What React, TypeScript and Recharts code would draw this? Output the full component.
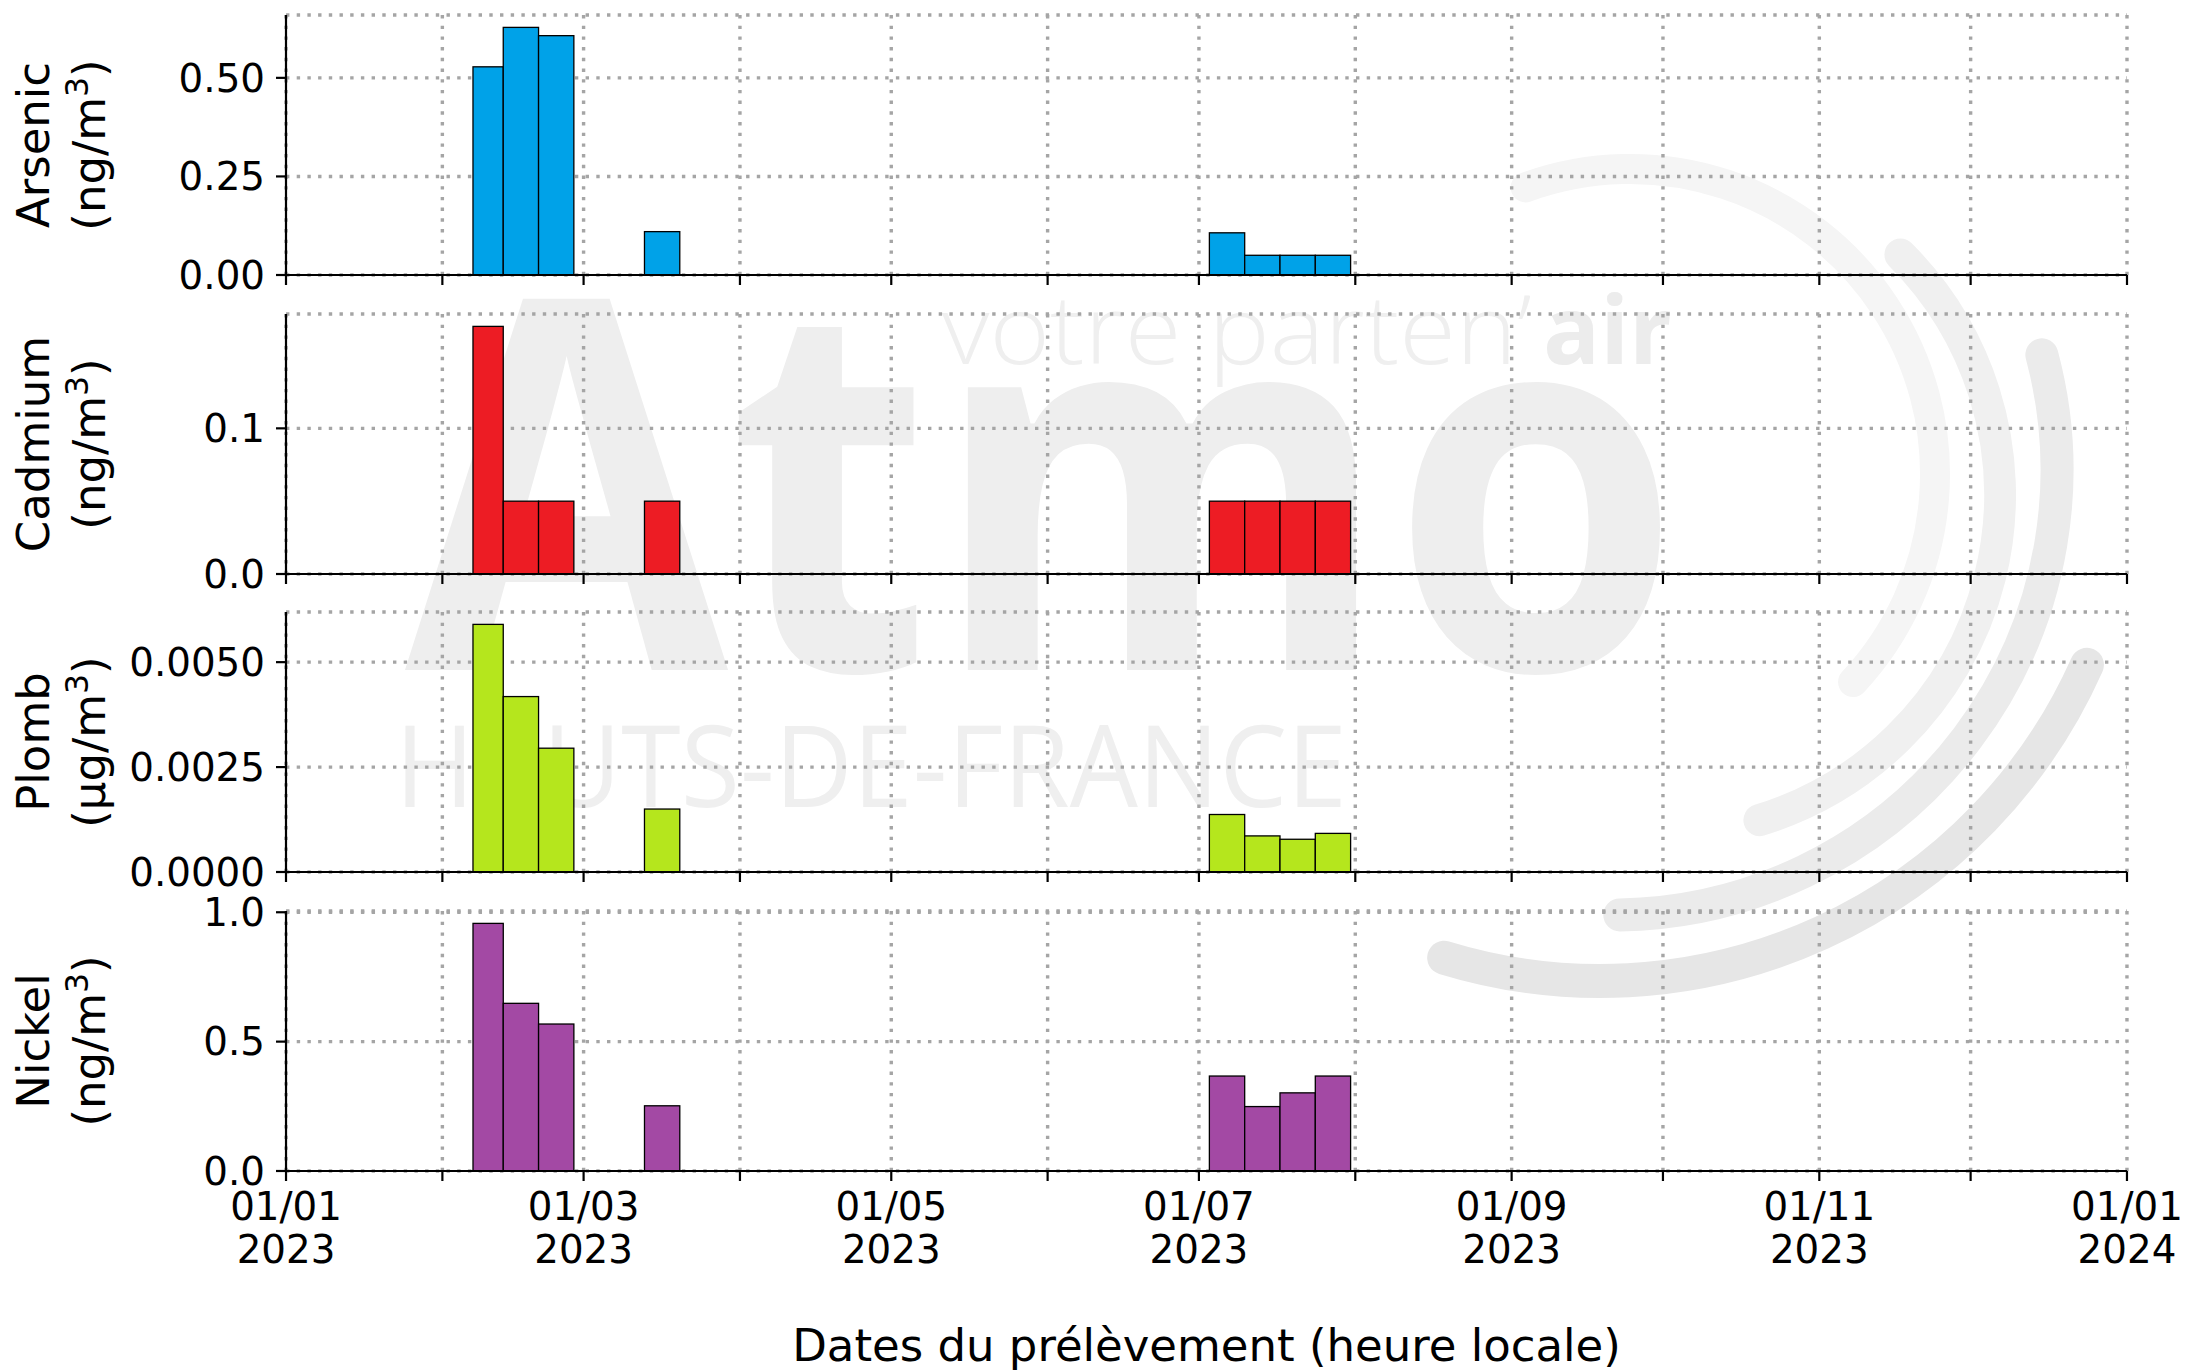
import React from "react";
import { BarChart, Bar, XAxis, YAxis, CartesianGrid } from "recharts";

const FONT = "'DejaVu Sans', sans-serif";

// sampling periods (start / end of each sample)
const sampleStart = [
  "2023-02-07", "2023-02-13", "2023-02-20", "2023-03-13",
  "2023-07-03", "2023-07-10", "2023-07-17", "2023-07-24",
];
const sampleEnd = [
  "2023-02-13", "2023-02-20", "2023-02-27", "2023-03-20",
  "2023-07-10", "2023-07-17", "2023-07-24", "2023-07-31",
];

const arsenic = [0.528, 0.628, 0.607, 0.11, 0.107, 0.05, 0.05, 0.05];
const cadmium = [0.17, 0.05, 0.05, 0.05, 0.05, 0.05, 0.05, 0.05];
const plomb = [0.0059, 0.00418, 0.00295, 0.0015, 0.00137, 0.00086, 0.00078, 0.00092];
const nickel = [0.957, 0.648, 0.568, 0.252, 0.367, 0.249, 0.302, 0.367];

const arsenicTicks = [0, 0.25, 0.5];
const cadmiumTicks = [0, 0.1];
const plombTicks = [0, 0.0025, 0.005];
const nickelTicks = [0, 0.5, 1.0];

const monthTicks = [
  "2023-01-01", "2023-02-01", "2023-03-01", "2023-04-01", "2023-05-01",
  "2023-06-01", "2023-07-01", "2023-08-01", "2023-09-01", "2023-10-01",
  "2023-11-01", "2023-12-01", "2024-01-01",
];
const tickDay = ["01/01", "", "01/03", "", "01/05", "", "01/07", "", "01/09", "", "01/11", "", "01/01"];
const tickYear = ["2023", "", "2023", "", "2023", "", "2023", "", "2023", "", "2023", "", "2024"];

const DAY = 86400000;
const toMs = (d: string) => Date.parse(d + "T00:00:00Z");
const monthMs = monthTicks.map(toMs);
const X_DOMAIN: [number, number] = [monthMs[0], monthMs[monthMs.length - 1]];

const W = 2188;
const LEFT = 286;
const RIGHT = 61;
const PLOT_W = W - LEFT - RIGHT;
const PLOT_H = 260;
const TOP_PAD = 32;
const FIRST_BOTTOM = 275.2;
const STEP = 298.47;
const PX_PER_DAY = PLOT_W / ((X_DOMAIN[1] - X_DOMAIN[0]) / DAY);

const TICK_FS = 38.8;
const LABEL_FS = 45;

const panels = [
  { name: "Arsenic", unit: "ng", color: "#00A2E8", values: arsenic, ticks: arsenicTicks, digits: 2 },
  { name: "Cadmium", unit: "ng", color: "#ED1C24", values: cadmium, ticks: cadmiumTicks, digits: 1 },
  { name: "Plomb", unit: "µg", color: "#B5E61D", values: plomb, ticks: plombTicks, digits: 4 },
  { name: "Nickel", unit: "ng", color: "#A349A4", values: nickel, ticks: nickelTicks, digits: 1 },
];

const makeShape = (color: string) => (props: any) => {
  const { x, y, width, height, payload } = props;
  if (x == null || y == null) return <g />;
  const w = payload.days * PX_PER_DAY;
  const cx = x + (width || 0) / 2;
  return (
    <rect x={cx - w / 2} y={y} width={w} height={Math.max(0, height)} fill={color} stroke="#000" strokeWidth={1.3} />
  );
};

const EmptyTick = () => <g />;

const DateTick = (props: any) => {
  const { x, y, payload } = props;
  const i = monthMs.indexOf(payload.value);
  if (i < 0 || !tickDay[i]) return <g />;
  return (
    <text x={x} textAnchor="middle" fontSize={TICK_FS} fontFamily={FONT} fill="#000">
      <tspan x={x} y={y + 39.4}>{tickDay[i]}</tspan>
      <tspan x={x} y={y + 82.1}>{tickYear[i]}</tspan>
    </text>
  );
};

const yLabel = (name: string, unit: string) => (p: any) => {
  const vb = p.viewBox || {};
  const cy = (vb.y ?? 0) + (vb.height ?? PLOT_H) / 2;
  const x1 = 49;
  const x2 = 105;
  return (
    <g fontFamily={FONT} fill="#000">
      <text x={x1} y={cy} fontSize={LABEL_FS} textAnchor="middle" transform={`rotate(-90 ${x1} ${cy})`}>
        {name}
      </text>
      <text x={x2} y={cy} fontSize={LABEL_FS} textAnchor="middle" transform={`rotate(-90 ${x2} ${cy})`}>
        ({unit}/m
        <tspan fontSize={31.5} dy={-17}>3</tspan>
        <tspan dy={17}>)</tspan>
      </text>
    </g>
  );
};

const xTitle = (p: any) => {
  const vb = p.viewBox || {};
  return (
    <text x={(vb.x ?? LEFT) + (vb.width ?? PLOT_W) / 2} y={(vb.y ?? 0) + 190.4} textAnchor="middle"
      fontSize={LABEL_FS} fontFamily={FONT} fill="#000">
      Dates du prélèvement (heure locale)
    </text>
  );
};

const arc = (cx: number, cy: number, r: number, a0: number, a1: number) => {
  const rad = Math.PI / 180;
  const x0 = cx + r * Math.cos(a0 * rad);
  const y0 = cy + r * Math.sin(a0 * rad);
  const x1 = cx + r * Math.cos(a1 * rad);
  const y1 = cy + r * Math.sin(a1 * rad);
  const large = a1 - a0 > 180 ? 1 : 0;
  return `M ${x0} ${y0} A ${r} ${r} 0 ${large} 1 ${x1} ${y1}`;
};

function Watermark() {
  const logo = "'Open Sans', 'Noto Sans', sans-serif";
  return (
    <svg width={W} height={1372} style={{ position: "absolute", left: 0, top: 0 }}>
      <text x={405} y={670} fontFamily={logo} fontWeight={700} fontSize={518} fill="#eeeeee"
        textLength={1276} lengthAdjust="spacingAndGlyphs">Atmo</text>
      <text x={942} y={364} fontFamily={logo} fontWeight={300} fontSize={95} fill="#efefef"
        textLength={590} lengthAdjust="spacingAndGlyphs">votre parten’</text>
      <text x={1543} y={364} fontFamily={logo} fontWeight={700} fontSize={95} fill="#ececec"
        textLength={129} lengthAdjust="spacingAndGlyphs">air</text>
      <text x={395} y={807} fontFamily={logo} fontWeight={400} fontSize={113} fill="#efefef"
        textLength={952} lengthAdjust="spacingAndGlyphs">HAUTS-DE-FRANCE</text>
      <g fill="none" strokeLinecap="round">
        <path d={arc(1630, 474, 305, -110, 43)} stroke="#f5f5f5" strokeWidth={30} />
        <path d={arc(1660, 495, 340, -45, 73)} stroke="#f0f0f0" strokeWidth={32} />
        <path d={arc(1612, 470, 445, -15, 89)} stroke="#ebebeb" strokeWidth={33} />
        <path d={arc(1600, 448, 533, 24, 107)} stroke="#e6e6e6" strokeWidth={34} />
      </g>
    </svg>
  );
}

export default function App() {
  return (
    <div style={{ position: "absolute", left: 0, top: 0, width: W, height: 1372, background: "#fff", overflow: "hidden" }}>
      <Watermark />
      {panels.map((panel, idx) => {
        const last = idx === panels.length - 1;
        const bottom = FIRST_BOTTOM + STEP * idx;
        const top = bottom - PLOT_H - TOP_PAD;
        const xH = last ? 1372 - bottom : 32;
        const data = sampleStart.map((s, i) => ({
          mid: (toMs(s) + toMs(sampleEnd[i])) / 2,
          days: (toMs(sampleEnd[i]) - toMs(s)) / DAY,
          value: panel.values[i],
        }));
        return (
          <div key={panel.name} style={{ position: "absolute", left: 0, top }}>
            <BarChart width={W} height={TOP_PAD + PLOT_H + xH} data={data}
              margin={{ top: TOP_PAD, right: RIGHT, bottom: 0, left: 0 }}>
              <CartesianGrid stroke="#a5a5a5" strokeWidth={3.4} strokeDasharray="3.4 7.3" />
              <XAxis dataKey="mid" type="number" domain={X_DOMAIN} allowDataOverflow ticks={monthMs}
                interval={0} height={xH} tickSize={10} tickMargin={0}
                axisLine={{ stroke: "#000", strokeWidth: 2.2 }}
                tickLine={{ stroke: "#000", strokeWidth: 2.2 }}
                tick={last ? <DateTick /> : <EmptyTick />}
                label={last ? xTitle : undefined} />
              <YAxis type="number" width={LEFT} domain={[0, (dataMax: number) => dataMax * 1.05]}
                allowDataOverflow ticks={panel.ticks} interval={0} tickSize={10} tickMargin={11}
                tickFormatter={(v: number) => v.toFixed(panel.digits)}
                tick={{ fontSize: TICK_FS, fill: "#000", fontFamily: FONT }}
                axisLine={{ stroke: "#000", strokeWidth: 2.2 }}
                tickLine={{ stroke: "#000", strokeWidth: 2.2 }}
                label={yLabel(panel.name, panel.unit)} />
              <Bar dataKey="value" barSize={Math.round(7 * PX_PER_DAY)} isAnimationActive={false}
                shape={makeShape(panel.color)} />
            </BarChart>
          </div>
        );
      })}
    </div>
  );
}
